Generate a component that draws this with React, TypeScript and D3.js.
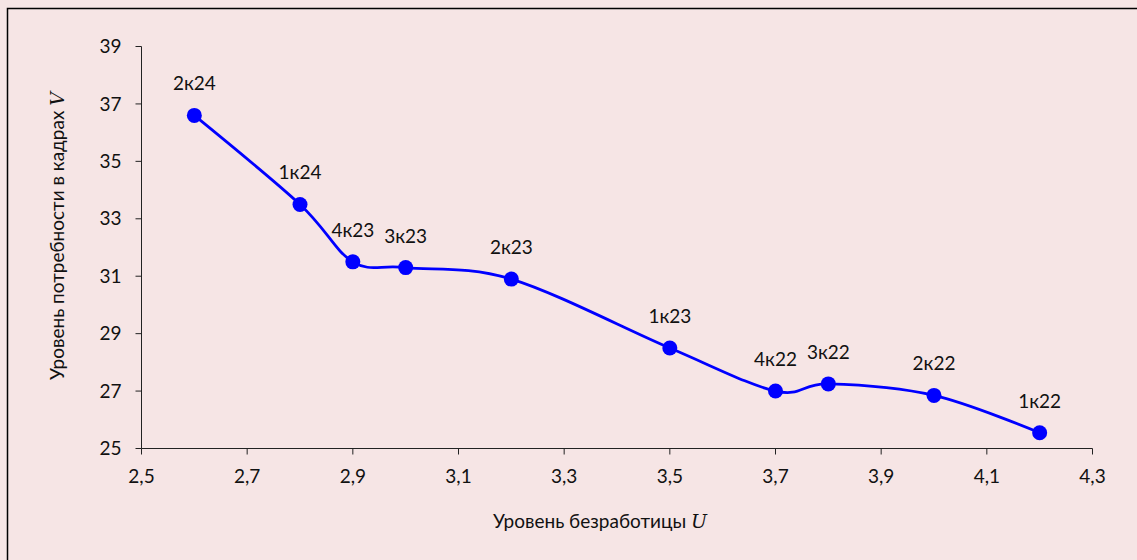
import React from "react";
import * as d3 from "d3";

const labels = ["1к22", "2к22", "3к22", "4к22", "1к23", "2к23", "3к23", "4к23", "1к24", "2к24"];
const unemployment = [4.2, 4.0, 3.8, 3.7, 3.5, 3.2, 3.0, 2.9, 2.8, 2.6];
const demand = [25.55, 26.85, 27.25, 27.0, 28.5, 30.9, 31.3, 31.5, 33.5, 36.6];
const xTicks = [2.5, 2.7, 2.9, 3.1, 3.3, 3.5, 3.7, 3.9, 4.1, 4.3];
const yTicks = [25, 27, 29, 31, 33, 35, 37, 39];

const W = 1137;
const H = 560;
const BG = "#F6E5E5";
const FONT = "Lato, 'Open Sans', sans-serif";
const FS = 19;

export default function App() {
  const x = d3.scaleLinear().domain([2.5, 4.3]).range([141.5, 1092.5]);
  const y = d3.scaleLinear().domain([25, 39]).range([448.5, 46.5]);
  const pts = unemployment.map((u, i) => [x(u), y(demand[i])] as [number, number]);
  const line = d3.line().curve(d3.curveCardinal.tension(0))(pts) || "";
  const fmt = (v: number) => v.toFixed(1).replace(".", ",");

  return (
    <div style={{ position: "fixed", left: 0, top: 0, width: W, height: H, background: BG }}>
      <svg width={W} height={H} style={{ display: "block" }} fontFamily={FONT}>
        <rect x={0} y={0} width={W} height={H} fill={BG} />
        <rect x={7.5} y={8.5} width={1140} height={600} fill="none" stroke="#000" strokeWidth={1.5} />
        {/* axes */}
        <line x1={x(2.5)} x2={x(2.5)} y1={y(39)} y2={y(25)} stroke="#222" strokeWidth={1} />
        <line x1={x(2.5)} x2={x(4.3)} y1={y(25)} y2={y(25)} stroke="#222" strokeWidth={1} />
        {yTicks.map((t) => (
          <g key={"y" + t}>
            <line x1={x(2.5) - 6} x2={x(2.5)} y1={y(t)} y2={y(t)} stroke="#222" strokeWidth={1} />
            <text x={x(2.5) - 20} y={y(t)} dy="0.35em" textAnchor="end" fontSize={FS} fill="#111">
              {t}
            </text>
          </g>
        ))}
        {xTicks.map((t) => (
          <g key={"x" + t}>
            <line x1={x(t)} x2={x(t)} y1={y(25)} y2={y(25) + 6} stroke="#222" strokeWidth={1} />
            <text x={x(t)} y={y(25) + 34} textAnchor="middle" fontSize={FS} fill="#111">
              {fmt(t)}
            </text>
          </g>
        ))}
        {/* series */}
        <path d={line} fill="none" stroke="#0000FF" strokeWidth={2.75} />
        {pts.map((p, i) => (
          <circle key={"c" + i} cx={p[0]} cy={p[1]} r={7.5} fill="#0000FF" />
        ))}
        {pts.map((p, i) => (
          <text key={"l" + i} x={p[0]} y={p[1] - 25} textAnchor="middle" fontSize={FS} fill="#111">
            {labels[i]}
          </text>
        ))}
        {/* titles */}
        <text x={600} y={528} textAnchor="middle" fontSize={FS} fill="#111">
          Уровень безработицы{" "}
          <tspan fontFamily="'DejaVu Serif', 'Liberation Serif', serif" fontStyle="italic">U</tspan>
        </text>
        <text
          transform={`translate(64, ${y(32.4)}) rotate(-90)`}
          textAnchor="middle"
          fontSize={FS}
          fill="#111"
        >
          Уровень потребности в кадрах{" "}
          <tspan fontFamily="'DejaVu Serif', 'Liberation Serif', serif" fontStyle="italic">V</tspan>
        </text>
      </svg>
    </div>
  );
}
